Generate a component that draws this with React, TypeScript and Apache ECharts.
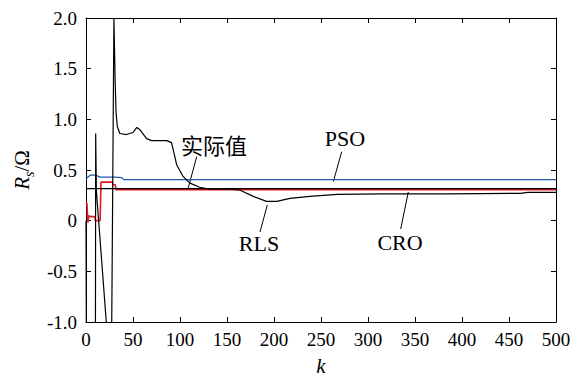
import React, { useEffect, useRef } from "react";
import * as echarts from "echarts";

// ---- data ----
const kTicks = [0, 50, 100, 150, 200, 250, 300, 350, 400, 450, 500];
const yTicks = [-1.0, -0.5, 0, 0.5, 1.0, 1.5, 2.0];

const actualK = [0, 500];
const actualV = [0.317, 0.317];

const psoK = [0, 2, 5, 10, 15, 30, 38, 40, 500];
const psoV = [0.41, 0.43, 0.45, 0.45, 0.43, 0.43, 0.425, 0.405, 0.405];

const croK = [0, 1, 2, 3, 4, 9, 10, 14, 15, 16, 28, 29, 31, 32, 500];
const croV = [0.18, 0.17, -0.02, 0.05, 0.04, 0.04, 0.0, 0.0, 0.0, 0.38, 0.38, 0.355, 0.355, 0.305, 0.305];

const rlsK = [0, 0.5, 10, 10.3, 11, 22, 23, 27, 29.7, 31, 32, 33.3, 36, 43, 50, 54, 57, 64.5, 70, 86, 91, 96.5, 103, 110.6, 121, 132, 153, 164, 178, 192, 203, 217, 238, 267, 316, 387, 462, 470, 500];
const rlsV = [0.0, -1.5, -1.5, 0.86, 0.3, -1.05, -1.5, -1.5, 2.0, 1.38, 1.06, 0.93, 0.86, 0.85, 0.87, 0.92, 0.9, 0.81, 0.79, 0.79, 0.77, 0.55, 0.44, 0.37, 0.33, 0.31, 0.31, 0.3, 0.24, 0.19, 0.19, 0.22, 0.24, 0.26, 0.265, 0.265, 0.27, 0.28, 0.28];

const zip = (ks: number[], vs: number[]) => ks.map((k, i) => [k, vs[i]]);

const SERIF = "'Liberation Serif', 'Times New Roman', 'DejaVu Serif', serif";
const CJK = "'Noto Sans CJK SC', sans-serif";

export default function App() {
  const ref = useRef<HTMLDivElement>(null);
  useEffect(() => {
    document.body.style.margin = "0";
    const chart = echarts.init(ref.current!, undefined, { renderer: "svg" });
    const axisCommon = {
      axisLine: { show: true, onZero: false, lineStyle: { color: "#000", width: 1 } },
      axisTick: { show: true, inside: true, length: 5, lineStyle: { color: "#000" } },
      splitLine: { show: false },
    };
    const ann = (text: string, x: number, y: number, font = SERIF) => ({
      type: "text",
      x,
      y,
      style: {
        text,
        fontFamily: font,
        fontSize: 22,
        fill: "#000",
        align: "center",
        verticalAlign: "middle",
      },
    });
    const lead = (x1: number, y1: number, x2: number, y2: number) => ({
      type: "line",
      shape: { x1, y1, x2, y2 },
      style: { stroke: "#000", lineWidth: 1 },
    });
    chart.setOption({
      animation: false,
      grid: { left: 86, right: 26, top: 18, bottom: 55 },
      xAxis: [
        {
          type: "value",
          min: 0,
          max: 500,
          interval: 50,
          ...axisCommon,
          axisLabel: {
            color: "#000",
            fontFamily: SERIF,
            fontSize: 19,
            margin: 8,
            formatter: (v: number) => (kTicks.includes(v) ? String(v) : ""),
          },
          name: "k",
          nameLocation: "middle",
          nameGap: 33,
          nameTextStyle: { color: "#000", fontFamily: SERIF, fontSize: 21, fontStyle: "italic" },
        },
        {
          type: "value",
          position: "top",
          min: 0,
          max: 500,
          interval: 50,
          ...axisCommon,
          axisLabel: { show: false },
        },
      ],
      yAxis: [
        {
          type: "value",
          min: -1,
          max: 2,
          interval: 0.5,
          ...axisCommon,
          axisLabel: {
            color: "#000",
            fontFamily: SERIF,
            fontSize: 19,
            margin: 9,
            formatter: (v: number) => (yTicks.includes(v) ? (v === 0 ? "0" : v.toFixed(1)) : ""),
          },
          name: "{r|R}{s|s}{n|/Ω}",
          nameLocation: "middle",
          nameGap: 52,
          nameRotate: 90,
          nameTextStyle: {
            color: "#000",
            fontFamily: SERIF,
            fontSize: 21,
            rich: {
              r: { fontFamily: SERIF, fontSize: 21, fontStyle: "italic", color: "#000", verticalAlign: "bottom" },
              s: { fontFamily: SERIF, fontSize: 14, fontStyle: "italic", color: "#000", verticalAlign: "bottom", padding: [0, 0, -4, 0] },
              n: { fontFamily: SERIF, fontSize: 21, color: "#000", verticalAlign: "bottom" },
            },
          },
        },
        {
          type: "value",
          position: "right",
          min: -1,
          max: 2,
          interval: 0.5,
          ...axisCommon,
          axisLabel: { show: false },
        },
      ],
      series: [
        {
          name: "实际值",
          type: "line",
          data: zip(actualK, actualV),
          showSymbol: false,
          lineStyle: { color: "#000", width: 1.2 },
          z: 3,
        },
        {
          name: "PSO",
          type: "line",
          data: zip(psoK, psoV),
          showSymbol: false,
          lineStyle: { color: "#2456a8", width: 1.2 },
          z: 2,
        },
        {
          name: "CRO",
          type: "line",
          data: zip(croK, croV),
          showSymbol: false,
          lineStyle: { color: "#e3191f", width: 1.6 },
          z: 2,
        },
        {
          name: "RLS",
          type: "line",
          data: zip(rlsK, rlsV),
          showSymbol: false,
          lineStyle: { color: "#000", width: 1.2 },
          z: 4,
        },
      ],
      graphic: [
        ann("实际值", 214, 144, CJK),
        lead(196.7, 156.7, 187.7, 190),
        ann("PSO", 345, 138),
        lead(341.7, 151.7, 333.3, 181.7),
        ann("RLS", 259, 243),
        lead(267.3, 205, 260, 232),
        ann("CRO", 400, 242),
        lead(408.3, 192, 400.7, 229),
      ],
    });
    return () => chart.dispose();
  }, []);
  return <div ref={ref} style={{ width: 582, height: 381 }} />;
}
